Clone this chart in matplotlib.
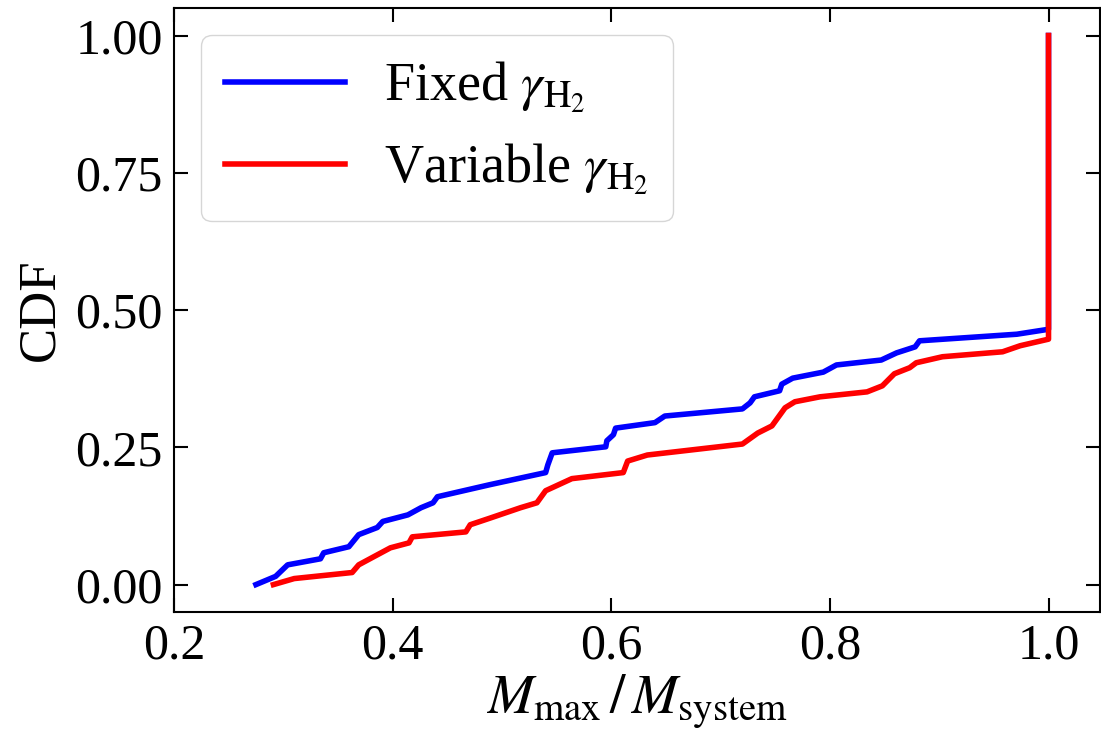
import matplotlib
matplotlib.use('Agg')
import matplotlib.pyplot as plt
import numpy as np

plt.rcParams['font.family'] = ['Liberation Serif', 'DejaVu Serif']
plt.rcParams['mathtext.fontset'] = 'stix'

# CDF curves of M_max / M_system
fixed_x = [0.275, 0.293, 0.304, 0.334, 0.337, 0.360, 0.369, 0.386, 0.391, 0.414,
           0.426, 0.437, 0.441, 0.489, 0.540, 0.542, 0.546, 0.595, 0.596, 0.602,
           0.604, 0.640, 0.649, 0.720, 0.727, 0.731, 0.754, 0.756, 0.766, 0.794,
           0.806, 0.847, 0.861, 0.878, 0.882, 0.971, 1.000, 1.000]
fixed_y = [0.000, 0.015, 0.036, 0.047, 0.058, 0.069, 0.091, 0.104, 0.115, 0.127,
           0.140, 0.149, 0.160, 0.182, 0.204, 0.218, 0.240, 0.251, 0.262, 0.273,
           0.285, 0.295, 0.307, 0.320, 0.331, 0.342, 0.353, 0.365, 0.376, 0.387,
           0.400, 0.409, 0.422, 0.433, 0.444, 0.456, 0.465, 1.000]

var_x = [0.291, 0.310, 0.363, 0.369, 0.383, 0.398, 0.415, 0.418, 0.467, 0.471,
         0.489, 0.517, 0.532, 0.540, 0.564, 0.611, 0.615, 0.633, 0.720, 0.734,
         0.747, 0.759, 0.768, 0.791, 0.834, 0.848, 0.859, 0.873, 0.879, 0.903,
         0.958, 0.974, 1.000, 1.000]
var_y = [0.000, 0.011, 0.022, 0.036, 0.051, 0.067, 0.076, 0.087, 0.096, 0.109,
         0.121, 0.140, 0.149, 0.171, 0.193, 0.204, 0.225, 0.236, 0.256, 0.276,
         0.289, 0.322, 0.333, 0.342, 0.351, 0.362, 0.384, 0.395, 0.404, 0.415,
         0.424, 0.435, 0.447, 1.000]

fig = plt.figure(figsize=(11.01, 7.33), dpi=100)
ax = fig.add_axes([0.158, 0.165, 0.841, 0.824])

ax.plot(fixed_x, fixed_y, color='blue', lw=4, label=r'Fixed $\gamma_{\rm H_2}$')
ax.plot(var_x, var_y, color='red', lw=4, label=r'Variable $\gamma_{\rm H_2}$')

ax.set_xlim(0.2, 1.047)
ax.set_ylim(-0.05, 1.05)
ax.set_xticks([0.2, 0.4, 0.6, 0.8, 1.0])
ax.set_yticks([0.0, 0.25, 0.5, 0.75, 1.0])
ax.set_yticklabels(['0.00', '0.25', '0.50', '0.75', '1.00'])

ax.tick_params(direction='in', top=True, right=True, length=10, width=1.5,
               labelsize=36, pad=8)
for s in ax.spines.values():
    s.set_linewidth(1.5)

ax.set_xlabel(r'$M_{\rm max}\,/\,M_{\rm system}$', fontsize=40, labelpad=2)
ax.set_ylabel('CDF', fontsize=38, labelpad=8)

ax.legend(loc='upper left', fontsize=39, handlelength=2.2, handletextpad=0.72,
          labelspacing=0.5, borderpad=0.45, borderaxespad=0.5)

fig.savefig('out.png', dpi=100)
